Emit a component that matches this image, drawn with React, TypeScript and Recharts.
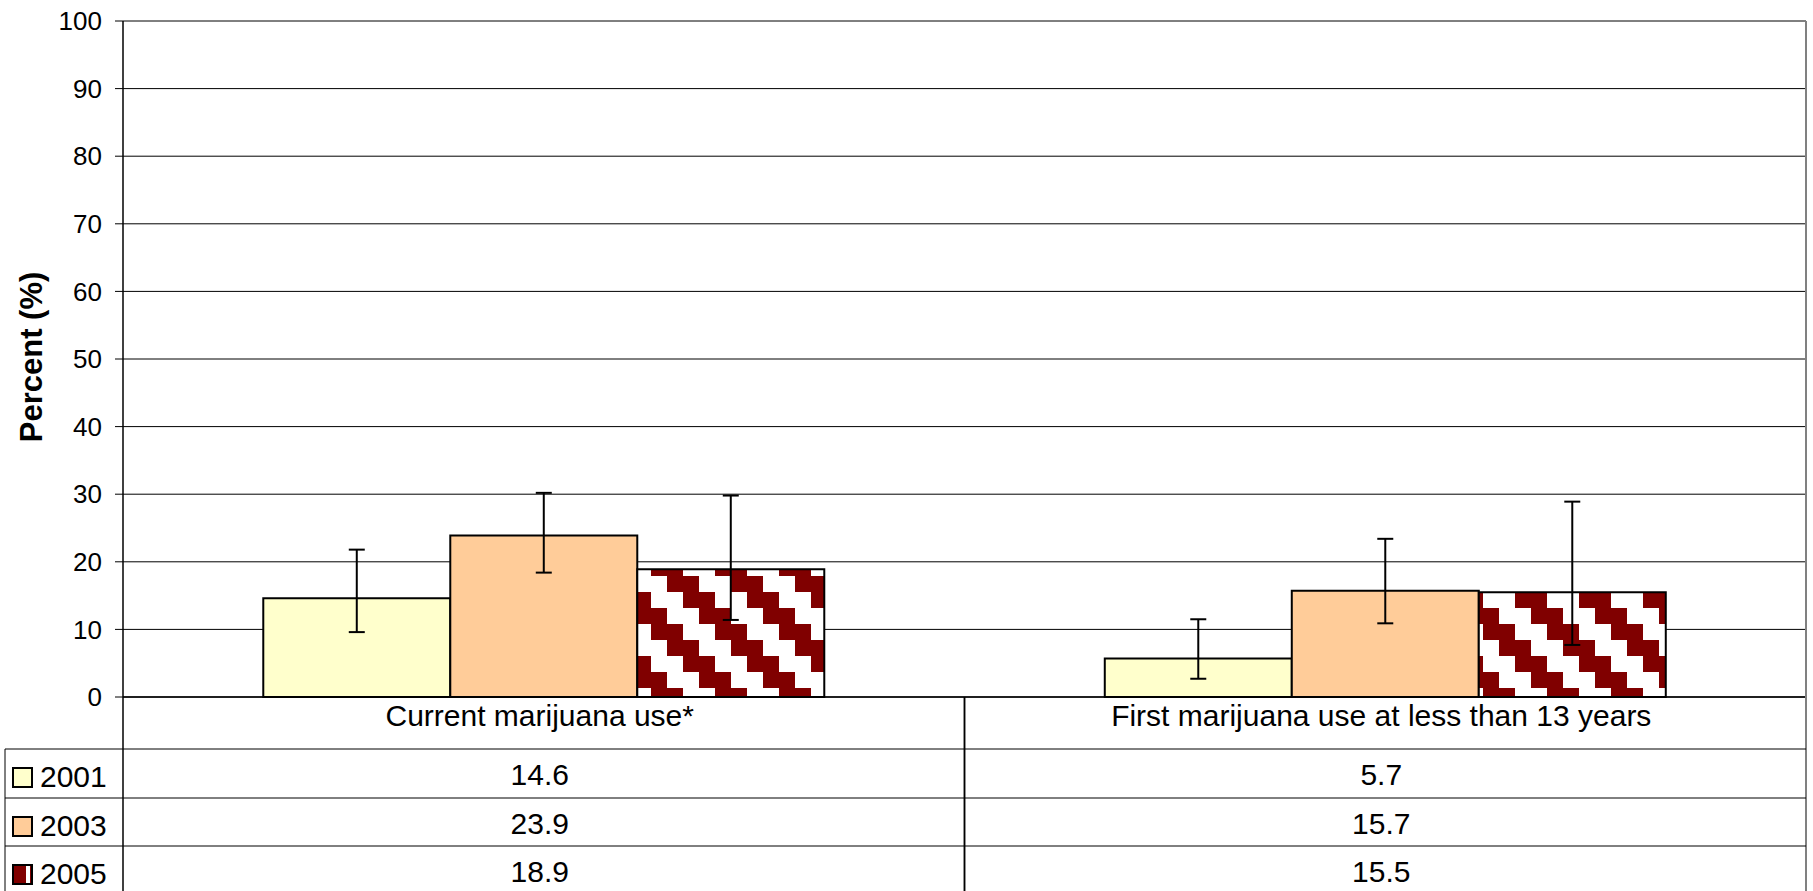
import React from 'react';
import { BarChart, Bar, XAxis, YAxis, CartesianGrid, ErrorBar } from 'recharts';

// ---- data ----
const categories = ['Current marijuana use*', 'First marijuana use at less than 13 years'];
const years = ['2001', '2003', '2005'];
const values2001 = [14.6, 5.7];
const values2003 = [23.9, 15.7];
const values2005 = [18.9, 15.5];
const lower2001 = [9.6, 2.7];
const upper2001 = [21.8, 11.5];
const lower2003 = [18.4, 10.9];
const upper2003 = [30.2, 23.4];
const lower2005 = [11.4, 7.7];
const upper2005 = [29.8, 28.9];
const yTicks = [0, 10, 20, 30, 40, 50, 60, 70, 80, 90, 100];
const yLabel = 'Percent (%)';

const seriesValues = [values2001, values2003, values2005];

const data = categories.map((c, i) => ({
  category: c,
  y2001: values2001[i],
  y2003: values2003[i],
  y2005: values2005[i],
  e2001: [values2001[i] - lower2001[i], upper2001[i] - values2001[i]],
  e2003: [values2003[i] - lower2003[i], upper2003[i] - values2003[i]],
  e2005: [values2005[i] - lower2005[i], upper2005[i] - values2005[i]],
}));

// ---- layout / style ----
const W = 1813;
const H = 891;
const TOP = 21;
const LEFT_W = 123;
const RIGHT_W = 7;
const XAXIS_H = 194;
const PLOT_W = W - LEFT_W - RIGHT_W;
const FONT = '"Liberation Sans", Arial, Helvetica, sans-serif';
const FS = 30;
const C2001 = '#FFFFCC';
const C2003 = '#FFCC99';
const CDARK = '#800000';
const GREY = '#808080';

const Swatch = ({ k, x, y }: { k: number; x: number; y: number }) => {
  if (k === 0) return <rect x={x} y={y} width={19} height={19} fill={C2001} stroke="#000" strokeWidth={2} />;
  if (k === 1) return <rect x={x} y={y} width={19} height={19} fill={C2003} stroke="#000" strokeWidth={2} />;
  return (
    <g>
      <rect x={x} y={y} width={19} height={19} fill={CDARK} stroke="#000" strokeWidth={2} />
      <rect x={x + 13} y={y + 1} width={4} height={17} fill="#fff" />
    </g>
  );
};

const TableTick = (props: any) => {
  const { x, y, payload } = props;
  const i: number = props.index ?? payload?.index ?? 0;
  const bw = PLOT_W / categories.length;
  const left = x - bw / 2;
  const right = x + bw / 2;
  const rowTops = [y + 52, y + 101, y + 149];
  const isLast = i === categories.length - 1;
  return (
    <g>
      <text x={x - 4} y={y + 29} textAnchor="middle" fontFamily={FONT} fontSize={FS} fill="#000">
        {categories[i]}
      </text>
      <line x1={left} y1={y} x2={left} y2={H} stroke="#000" strokeWidth={1.5} />
      <line x1={right} y1={y} x2={right} y2={H} stroke={isLast ? GREY : '#000'} strokeWidth={isLast ? 2 : 1.5} />
      {rowTops.map((t, r) => (
        <g key={r}>
          <line x1={left} y1={t} x2={right} y2={t} stroke="#000" strokeWidth={1} />
          <text x={x - 4} y={t + 36} textAnchor="middle" fontFamily={FONT} fontSize={FS} fill="#000">
            {seriesValues[r][i].toFixed(1)}
          </text>
        </g>
      ))}
      {i === 0 && (
        <g>
          <line x1={5} y1={rowTops[0]} x2={5} y2={H} stroke="#000" strokeWidth={1} />
          {rowTops.map((t, r) => (
            <g key={'l' + r}>
              <line x1={5} y1={t} x2={left} y2={t} stroke="#000" strokeWidth={1} />
              <Swatch k={r} x={13} y={t + 19} />
              <text x={40} y={t + 38} fontFamily={FONT} fontSize={FS} fill="#000">
                {years[r]}
              </text>
            </g>
          ))}
        </g>
      )}
    </g>
  );
};

const YTitle = () => (
  <text
    x={42}
    y={357}
    transform="rotate(-90 42 357)"
    textAnchor="middle"
    fontFamily={FONT}
    fontWeight="bold"
    fontSize={31}
    fill="#000"
  >
    {yLabel}
  </text>
);

export default function App() {
  return (
    <div style={{ position: 'absolute', left: 0, top: 0, width: W, height: H, background: '#fff' }}>
      <svg width={0} height={0} style={{ position: 'absolute' }}>
        <defs>
          <pattern id="pat2005" patternUnits="userSpaceOnUse" x={27} y={0} width={64} height={64}>
            <rect x={0} y={0} width={64} height={64} fill="#fff" />
            <rect x={0} y={0} width={32} height={16} fill={CDARK} />
            <rect x={16} y={16} width={32} height={16} fill={CDARK} />
            <rect x={32} y={32} width={32} height={16} fill={CDARK} />
            <rect x={48} y={48} width={16} height={16} fill={CDARK} />
            <rect x={0} y={48} width={16} height={16} fill={CDARK} />
          </pattern>
        </defs>
      </svg>
      <BarChart
        width={W}
        height={H}
        data={data}
        margin={{ top: TOP, right: 0, bottom: 0, left: 0 }}
        barCategoryGap="16.67%"
        barGap={0}
      >
        <CartesianGrid horizontal vertical={false} stroke="#000" strokeWidth={1} />
        <XAxis
          dataKey="category"
          height={XAXIS_H}
          interval={0}
          tickLine={false}
          tickSize={0}
          tickMargin={0}
          axisLine={{ stroke: '#000', strokeWidth: 1.5 }}
          tick={(p: any) => <TableTick {...p} />}
        />
        <YAxis
          width={LEFT_W}
          domain={[0, 100]}
          ticks={yTicks}
          interval={0}
          tickSize={8}
          tickMargin={13}
          axisLine={{ stroke: '#000', strokeWidth: 1.5 }}
          tickLine={{ stroke: '#000' }}
          tick={{ fontSize: 26, fill: '#000', fontFamily: FONT }}
          label={{ content: () => <YTitle /> }}
        />
        <YAxis
          yAxisId="right"
          orientation="right"
          width={RIGHT_W}
          domain={[0, 100]}
          tick={false}
          tickLine={false}
          axisLine={{ stroke: GREY, strokeWidth: 2 }}
        />
        <Bar dataKey="y2001" fill={C2001} stroke="#000" strokeWidth={2} isAnimationActive={false}>
          <ErrorBar dataKey="e2001" width={8} stroke="#000" strokeWidth={2} isAnimationActive={false} />
        </Bar>
        <Bar dataKey="y2003" fill={C2003} stroke="#000" strokeWidth={2} isAnimationActive={false}>
          <ErrorBar dataKey="e2003" width={8} stroke="#000" strokeWidth={2} isAnimationActive={false} />
        </Bar>
        <Bar dataKey="y2005" fill="url(#pat2005)" stroke="#000" strokeWidth={2} isAnimationActive={false}>
          <ErrorBar dataKey="e2005" width={8} stroke="#000" strokeWidth={2} isAnimationActive={false} />
        </Bar>
      </BarChart>
    </div>
  );
}
